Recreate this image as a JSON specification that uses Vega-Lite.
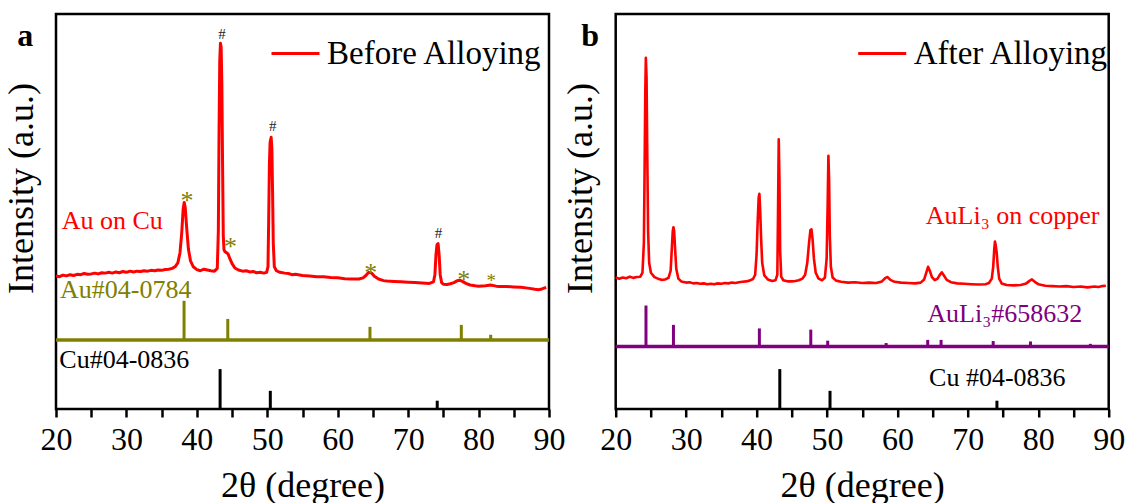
{
  "$schema": "https://vega.github.io/schema/vega-lite/v6.json",
  "background": "white",
  "padding": {"left": 1, "top": 12, "right": 0, "bottom": 0},
  "bounds": "flush",
  "spacing": 66.7,
  "config": {
    "font": "Liberation Serif",
    "view": {"stroke": "black", "strokeWidth": 2.5},
    "axis": {"grid": false, "domain": false},
    "legend": {"orient": "none"}
  },
  "resolve": {"scale": {"color": "independent"}, "legend": {"color": "independent"}},
  "datasets": {
    "a_xrd": [
      {"angle":20,"intensity":33.7},{"angle":20.5,"intensity":33.5},{"angle":21,"intensity":33.9},{"angle":21.5,"intensity":33.7},{"angle":22,"intensity":34.0},{"angle":22.5,"intensity":33.8},{"angle":23,"intensity":34.1},{"angle":23.5,"intensity":34.0},{"angle":24,"intensity":34.3},{"angle":24.5,"intensity":34.1},{"angle":25,"intensity":34.2},{"angle":25.5,"intensity":34.4},{"angle":26,"intensity":34.2},{"angle":26.5,"intensity":34.5},{"angle":27,"intensity":34.4},{"angle":27.5,"intensity":34.6},{"angle":28,"intensity":34.4},{"angle":28.5,"intensity":34.7},{"angle":29,"intensity":34.5},{"angle":29.5,"intensity":34.8},{"angle":30,"intensity":34.6},{"angle":30.5,"intensity":34.9},{"angle":31,"intensity":34.7},{"angle":31.5,"intensity":34.9},{"angle":32,"intensity":34.8},{"angle":32.5,"intensity":35.0},{"angle":33,"intensity":34.9},{"angle":33.5,"intensity":35.1},{"angle":34,"intensity":35.0},{"angle":34.5,"intensity":35.2},{"angle":35,"intensity":35.1},{"angle":35.5,"intensity":35.3},{"angle":36,"intensity":35.4},{"angle":36.5,"intensity":35.6},{"angle":36.9,"intensity":36.0},{"angle":37.3,"intensity":37.0},{"angle":37.6,"intensity":39.5},{"angle":37.85,"intensity":44.5},{"angle":38.05,"intensity":50.5},{"angle":38.2,"intensity":52.3},{"angle":38.35,"intensity":51.0},{"angle":38.55,"intensity":46.0},{"angle":38.8,"intensity":40.5},{"angle":39.1,"intensity":37.5},{"angle":39.5,"intensity":36.0},{"angle":40,"intensity":35.3},{"angle":40.5,"intensity":35.0},{"angle":41,"intensity":35.4},{"angle":41.5,"intensity":35.2},{"angle":42,"intensity":35.0},{"angle":42.5,"intensity":34.9},{"angle":42.9,"intensity":35.6},{"angle":43.05,"intensity":45},{"angle":43.15,"intensity":70},{"angle":43.25,"intensity":88},{"angle":43.35,"intensity":92.6},{"angle":43.45,"intensity":91.5},{"angle":43.55,"intensity":82},{"angle":43.65,"intensity":62},{"angle":43.75,"intensity":44},{"angle":43.85,"intensity":40.3},{"angle":44.0,"intensity":39.8},{"angle":44.2,"intensity":39.6},{"angle":44.45,"intensity":39.2},{"angle":44.7,"intensity":38.0},{"angle":45.0,"intensity":36.8},{"angle":45.4,"intensity":35.7},{"angle":45.9,"intensity":35.2},{"angle":46.5,"intensity":34.9},{"angle":47,"intensity":35.0},{"angle":47.5,"intensity":34.7},{"angle":48,"intensity":34.8},{"angle":48.5,"intensity":34.5},{"angle":49,"intensity":34.6},{"angle":49.5,"intensity":34.4},{"angle":49.9,"intensity":34.6},{"angle":50.1,"intensity":36},{"angle":50.2,"intensity":48},{"angle":50.3,"intensity":62},{"angle":50.4,"intensity":67.5},{"angle":50.55,"intensity":68.8},{"angle":50.65,"intensity":66},{"angle":50.75,"intensity":55},{"angle":50.85,"intensity":42},{"angle":51.0,"intensity":36.0},{"angle":51.3,"intensity":35.0},{"angle":51.8,"intensity":34.6},{"angle":52.5,"intensity":34.4},{"angle":53,"intensity":34.3},{"angle":53.5,"intensity":34.0},{"angle":54,"intensity":34.1},{"angle":55,"intensity":33.8},{"angle":56,"intensity":33.7},{"angle":57,"intensity":33.5},{"angle":58,"intensity":33.5},{"angle":59,"intensity":33.3},{"angle":60,"intensity":33.2},{"angle":61,"intensity":33.0},{"angle":62,"intensity":32.9},{"angle":63,"intensity":32.9},{"angle":63.6,"intensity":33.2},{"angle":64.0,"intensity":33.8},{"angle":64.4,"intensity":34.6},{"angle":64.8,"intensity":34.4},{"angle":65.2,"intensity":33.6},{"angle":65.8,"intensity":32.9},{"angle":66.5,"intensity":32.5},{"angle":67,"intensity":32.4},{"angle":68,"intensity":32.3},{"angle":69,"intensity":32.2},{"angle":70,"intensity":32.1},{"angle":71,"intensity":32.0},{"angle":72,"intensity":31.9},{"angle":73,"intensity":31.8},{"angle":73.6,"intensity":32.2},{"angle":73.8,"intensity":34},{"angle":73.95,"intensity":39},{"angle":74.1,"intensity":41.6},{"angle":74.25,"intensity":41.9},{"angle":74.4,"intensity":39},{"angle":74.55,"intensity":34},{"angle":74.75,"intensity":32},{"angle":75,"intensity":31.6},{"angle":75.5,"intensity":31.5},{"angle":76,"intensity":31.7},{"angle":76.5,"intensity":32.0},{"angle":77,"intensity":32.5},{"angle":77.3,"intensity":32.6},{"angle":77.7,"intensity":32.3},{"angle":78.2,"intensity":31.8},{"angle":78.8,"intensity":31.4},{"angle":79.5,"intensity":31.2},{"angle":80,"intensity":31.1},{"angle":81,"intensity":31.2},{"angle":81.7,"intensity":31.4},{"angle":82.5,"intensity":31.1},{"angle":83,"intensity":31.0},{"angle":84,"intensity":31.0},{"angle":85,"intensity":30.9},{"angle":86,"intensity":30.8},{"angle":87,"intensity":30.6},{"angle":88,"intensity":30.3},{"angle":88.5,"intensity":30.2},{"angle":89,"intensity":30.4},{"angle":89.6,"intensity":30.8}
    ],
    "b_xrd": [
      {"angle":20,"intensity":33.3},{"angle":20.5,"intensity":33.0},{"angle":21,"intensity":33.3},{"angle":21.5,"intensity":33.1},{"angle":22,"intensity":33.5},{"angle":22.5,"intensity":33.2},{"angle":23,"intensity":33.4},{"angle":23.5,"intensity":33.5},{"angle":23.8,"intensity":34.5},{"angle":24.0,"intensity":42},{"angle":24.1,"intensity":60},{"angle":24.2,"intensity":80},{"angle":24.28,"intensity":88.9},{"angle":24.38,"intensity":84},{"angle":24.48,"intensity":65},{"angle":24.6,"intensity":45},{"angle":24.75,"intensity":37},{"angle":25,"intensity":34.5},{"angle":25.5,"intensity":33.4},{"angle":26,"intensity":33.0},{"angle":26.5,"intensity":32.7},{"angle":27,"intensity":32.8},{"angle":27.5,"intensity":33.2},{"angle":27.8,"intensity":35},{"angle":27.95,"intensity":40},{"angle":28.1,"intensity":45},{"angle":28.2,"intensity":46.0},{"angle":28.3,"intensity":45},{"angle":28.45,"intensity":40},{"angle":28.6,"intensity":35.5},{"angle":28.9,"intensity":33},{"angle":29.3,"intensity":32.3},{"angle":30,"intensity":32.0},{"angle":30.5,"intensity":32.1},{"angle":31,"intensity":31.8},{"angle":31.5,"intensity":31.9},{"angle":32,"intensity":31.7},{"angle":32.5,"intensity":31.8},{"angle":33,"intensity":31.6},{"angle":33.5,"intensity":31.7},{"angle":34,"intensity":31.6},{"angle":34.5,"intensity":31.8},{"angle":35,"intensity":31.7},{"angle":35.5,"intensity":31.9},{"angle":36,"intensity":31.8},{"angle":36.5,"intensity":32.0},{"angle":37,"intensity":31.9},{"angle":37.5,"intensity":32.1},{"angle":38,"intensity":32.2},{"angle":38.5,"intensity":32.3},{"angle":39,"intensity":32.5},{"angle":39.5,"intensity":32.9},{"angle":39.8,"intensity":34},{"angle":40.0,"intensity":39},{"angle":40.15,"intensity":47},{"angle":40.3,"intensity":53.5},{"angle":40.4,"intensity":54.5},{"angle":40.5,"intensity":51},{"angle":40.65,"intensity":43},{"angle":40.8,"intensity":37},{"angle":41.1,"intensity":33.8},{"angle":41.6,"intensity":32.8},{"angle":42.2,"intensity":32.4},{"angle":42.7,"intensity":32.6},{"angle":42.95,"intensity":34},{"angle":43.05,"intensity":50},{"angle":43.15,"intensity":68.3},{"angle":43.25,"intensity":58},{"angle":43.35,"intensity":40},{"angle":43.5,"intensity":33.5},{"angle":43.8,"intensity":32.6},{"angle":44.5,"intensity":32.3},{"angle":45,"intensity":32.3},{"angle":45.5,"intensity":32.4},{"angle":46,"intensity":32.6},{"angle":46.5,"intensity":33.0},{"angle":46.9,"intensity":34},{"angle":47.2,"intensity":37},{"angle":47.45,"intensity":42},{"angle":47.65,"intensity":45.3},{"angle":47.8,"intensity":45.5},{"angle":47.95,"intensity":43},{"angle":48.15,"intensity":38},{"angle":48.4,"intensity":34.5},{"angle":48.8,"intensity":33.0},{"angle":49.3,"intensity":32.6},{"angle":49.7,"intensity":33.2},{"angle":49.95,"intensity":38},{"angle":50.1,"intensity":52},{"angle":50.2,"intensity":64.1},{"angle":50.3,"intensity":58},{"angle":50.4,"intensity":44},{"angle":50.55,"intensity":36},{"angle":50.8,"intensity":33.3},{"angle":51.3,"intensity":32.5},{"angle":52,"intensity":32.2},{"angle":53,"intensity":32.0},{"angle":54,"intensity":32.1},{"angle":55,"intensity":31.9},{"angle":56,"intensity":32.0},{"angle":57,"intensity":31.9},{"angle":57.8,"intensity":32.3},{"angle":58.3,"intensity":33.2},{"angle":58.6,"intensity":33.4},{"angle":59.0,"intensity":32.7},{"angle":59.6,"intensity":32.2},{"angle":60.5,"intensity":32.0},{"angle":61.5,"intensity":31.9},{"angle":62.5,"intensity":31.8},{"angle":63.3,"intensity":32.0},{"angle":63.8,"intensity":32.8},{"angle":64.1,"intensity":34.5},{"angle":64.35,"intensity":36.0},{"angle":64.6,"intensity":35.0},{"angle":64.9,"intensity":33.4},{"angle":65.3,"intensity":32.6},{"angle":65.7,"intensity":33.0},{"angle":66.0,"intensity":33.9},{"angle":66.3,"intensity":34.6},{"angle":66.6,"intensity":33.8},{"angle":67.0,"intensity":32.7},{"angle":67.6,"intensity":32.1},{"angle":68.5,"intensity":31.8},{"angle":69.5,"intensity":31.7},{"angle":70.5,"intensity":31.6},{"angle":71.5,"intensity":31.5},{"angle":72.5,"intensity":31.6},{"angle":73.0,"intensity":31.9},{"angle":73.4,"intensity":33},{"angle":73.6,"intensity":36},{"angle":73.75,"intensity":40.5},{"angle":73.85,"intensity":42.4},{"angle":73.95,"intensity":41.5},{"angle":74.1,"intensity":39.5},{"angle":74.25,"intensity":36},{"angle":74.45,"intensity":33},{"angle":74.8,"intensity":31.8},{"angle":75.5,"intensity":31.4},{"angle":76.5,"intensity":31.3},{"angle":77.5,"intensity":31.4},{"angle":78.3,"intensity":31.8},{"angle":78.8,"intensity":32.5},{"angle":79.1,"intensity":32.8},{"angle":79.5,"intensity":32.2},{"angle":80,"intensity":31.6},{"angle":81,"intensity":31.2},{"angle":82,"intensity":31.1},{"angle":83,"intensity":31.0},{"angle":84,"intensity":31.1},{"angle":85,"intensity":30.9},{"angle":86,"intensity":31.0},{"angle":87,"intensity":30.8},{"angle":88,"intensity":31.0},{"angle":88.5,"intensity":30.9},{"angle":89,"intensity":31.1},{"angle":89.6,"intensity":31.2}
    ],
    "a_sticks": [
      {"phase":"Au","angle":38.18,"base":17.5,"top":27.4},
      {"phase":"Au","angle":44.39,"base":17.5,"top":22.8},
      {"phase":"Au","angle":64.58,"base":17.5,"top":20.8},
      {"phase":"Au","angle":77.55,"base":17.5,"top":21.3},
      {"phase":"Au","angle":81.72,"base":17.5,"top":18.8},
      {"phase":"Cu","angle":43.30,"base":0,"top":10.1},
      {"phase":"Cu","angle":50.43,"base":0,"top":4.6},
      {"phase":"Cu","angle":74.13,"base":0,"top":2.1}
    ],
    "b_sticks": [
      {"phase":"AuLi3","angle":24.3,"base":15.8,"top":26.2},
      {"phase":"AuLi3","angle":28.2,"base":15.8,"top":21.3},
      {"phase":"AuLi3","angle":40.4,"base":15.8,"top":20.4},
      {"phase":"AuLi3","angle":47.7,"base":15.8,"top":20.1},
      {"phase":"AuLi3","angle":50.1,"base":15.8,"top":17.3},
      {"phase":"AuLi3","angle":58.4,"base":15.8,"top":16.7},
      {"phase":"AuLi3","angle":64.3,"base":15.8,"top":17.5},
      {"phase":"AuLi3","angle":66.2,"base":15.8,"top":17.5},
      {"phase":"AuLi3","angle":73.6,"base":15.8,"top":17.2},
      {"phase":"AuLi3","angle":78.9,"base":15.8,"top":17.1},
      {"phase":"AuLi3","angle":87.4,"base":15.8,"top":16.5},
      {"phase":"Cu","angle":43.30,"base":0,"top":10.1},
      {"phase":"Cu","angle":50.43,"base":0,"top":4.6},
      {"phase":"Cu","angle":74.13,"base":0,"top":2.1}
    ],
    "a_base": [{"phase":"Au","from":20,"to":90,"level":17.5}],
    "b_base": [{"phase":"AuLi3","from":20,"to":90,"level":15.8}],
    "a_text": [
      {"kind":"panel","label":"a","angle":14.5,"intensity":92.0},
      {"kind":"sample","label":"Au on Cu","angle":20.8,"intensity":45.5},
      {"kind":"ref","label":"Au#04-0784","angle":20.57,"intensity":28.0},
      {"kind":"cu","label":"Cu#04-0836","angle":20.47,"intensity":10.5},
      {"kind":"hash","label":"#","angle":43.58,"intensity":93.7},
      {"kind":"hash","label":"#","angle":50.77,"intensity":70.5},
      {"kind":"hash","label":"#","angle":74.3,"intensity":43.4},
      {"kind":"star","label":"*","angle":38.6,"intensity":50.6},
      {"kind":"star","label":"*","angle":44.76,"intensity":39.0},
      {"kind":"star","label":"*","angle":64.7,"intensity":32.5},
      {"kind":"star","label":"*","angle":77.9,"intensity":30.6},
      {"kind":"smallstar","label":"*","angle":81.8,"intensity":30.8}
    ],
    "b_text": [
      {"kind":"panel","label":"b","angle":15.1,"intensity":92.0},
      {"kind":"sample","label":"AuLi₃ on copper","angle":64.03,"intensity":46.8},
      {"kind":"ref","label":"AuLi₃#658632","angle":64.25,"intensity":21.9},
      {"kind":"cu","label":"Cu #04-0836","angle":64.5,"intensity":5.7}
    ]
  },
  "hconcat": [
    {
      "width": 493,
      "height": 395,
      "encoding": {
        "x": {"type": "quantitative", "scale": {"domain": [20, 90], "nice": false},
              "axis": {"values": [20,25,30,35,40,45,50,55,60,65,70,75,80,85,90], "labelExpr": "datum.value % 10 === 0 ? datum.label : ''", "tickSize": 8, "tickWidth": 2.5, "tickColor": "black", "labelFont": "Liberation Serif", "labelFontSize": 32, "labelColor": "black", "labelPadding": 7, "labelFlush": false, "labelOverlap": false, "title": "2θ (degree)", "titleFont": "Liberation Serif", "titleFontSize": 36, "titleFontWeight": "normal", "titleColor": "black", "titlePadding": 13}},
        "y": {"type": "quantitative", "scale": {"domain": [0, 100], "nice": false},
              "axis": {"title": "Intensity (a.u.)", "labels": false, "ticks": false, "titleFont": "Liberation Serif", "titleFontSize": 36, "titleFontWeight": "normal", "titleColor": "black", "titlePadding": 16, "titleY": 174}}
      },
      "layer": [
        {
          "data": {"name": "a_base"},
          "mark": {"type": "rule", "color": "#808000", "strokeWidth": 3.5},
          "encoding": {"x": {"field": "from", "type": "quantitative"}, "x2": {"field": "to"}, "y": {"field": "level", "type": "quantitative"}}
        },
        {
          "data": {"name": "a_sticks"},
          "transform": [{"filter": "datum.phase === 'Au'"}],
          "mark": {"type": "rule", "color": "#808000", "strokeWidth": 3},
          "encoding": {"x": {"field": "angle", "type": "quantitative"}, "y": {"field": "base", "type": "quantitative"}, "y2": {"field": "top"}}
        },
        {
          "data": {"name": "a_sticks"},
          "transform": [{"filter": "datum.phase === 'Cu'"}],
          "mark": {"type": "rule", "color": "black", "strokeWidth": 3},
          "encoding": {"x": {"field": "angle", "type": "quantitative"}, "y": {"field": "base", "type": "quantitative"}, "y2": {"field": "top"}}
        },
        {
          "data": {"name": "a_xrd"},
          "mark": {"type": "line", "strokeWidth": 3, "strokeJoin": "round"},
          "encoding": {
            "x": {"field": "angle", "type": "quantitative"},
            "y": {"field": "intensity", "type": "quantitative"},
            "color": {"datum": "Before Alloying", "type": "nominal", "scale": {"range": ["#ff0000"]},
                      "legend": {"title": null, "orient": "none", "legendX": 214, "legendY": 14, "padding": 0, "symbolType": "stroke", "symbolSize": 2304, "symbolStrokeWidth": 3, "labelFont": "Liberation Serif", "labelFontSize": 33, "labelColor": "black", "labelOffset": 6, "labelLimit": 400}}
          }
        },
        {
          "data": {"name": "a_text"},
          "transform": [{"filter": "datum.kind === 'panel'"}],
          "mark": {"type": "text", "align": "left", "baseline": "alphabetic", "font": "Liberation Serif", "fontSize": 32, "fontWeight": "bold", "color": "black"},
          "encoding": {"x": {"field": "angle", "type": "quantitative"}, "y": {"field": "intensity", "type": "quantitative"}, "text": {"field": "label"}}
        },
        {
          "data": {"name": "a_text"},
          "transform": [{"filter": "datum.kind === 'sample'"}],
          "mark": {"type": "text", "align": "left", "baseline": "alphabetic", "font": "Liberation Serif", "fontSize": 26, "color": "#ff0000"},
          "encoding": {"x": {"field": "angle", "type": "quantitative"}, "y": {"field": "intensity", "type": "quantitative"}, "text": {"field": "label"}}
        },
        {
          "data": {"name": "a_text"},
          "transform": [{"filter": "datum.kind === 'ref'"}],
          "mark": {"type": "text", "align": "left", "baseline": "alphabetic", "font": "Liberation Serif", "fontSize": 26, "color": "#808000"},
          "encoding": {"x": {"field": "angle", "type": "quantitative"}, "y": {"field": "intensity", "type": "quantitative"}, "text": {"field": "label"}}
        },
        {
          "data": {"name": "a_text"},
          "transform": [{"filter": "datum.kind === 'cu'"}],
          "mark": {"type": "text", "align": "left", "baseline": "alphabetic", "font": "Liberation Serif", "fontSize": 26, "color": "black"},
          "encoding": {"x": {"field": "angle", "type": "quantitative"}, "y": {"field": "intensity", "type": "quantitative"}, "text": {"field": "label"}}
        },
        {
          "data": {"name": "a_text"},
          "transform": [{"filter": "datum.kind === 'hash'"}],
          "mark": {"type": "text", "align": "center", "baseline": "alphabetic", "font": "Liberation Serif", "fontSize": 15, "color": "#222222"},
          "encoding": {"x": {"field": "angle", "type": "quantitative"}, "y": {"field": "intensity", "type": "quantitative"}, "text": {"field": "label"}}
        },
        {
          "data": {"name": "a_text"},
          "transform": [{"filter": "datum.kind === 'star'"}],
          "mark": {"type": "text", "align": "center", "baseline": "alphabetic", "font": "Liberation Serif", "fontSize": 26, "color": "#808000"},
          "encoding": {"x": {"field": "angle", "type": "quantitative"}, "y": {"field": "intensity", "type": "quantitative"}, "text": {"field": "label"}}
        },
        {
          "data": {"name": "a_text"},
          "transform": [{"filter": "datum.kind === 'smallstar'"}],
          "mark": {"type": "text", "align": "center", "baseline": "alphabetic", "font": "Liberation Serif", "fontSize": 19, "color": "#808000"},
          "encoding": {"x": {"field": "angle", "type": "quantitative"}, "y": {"field": "intensity", "type": "quantitative"}, "text": {"field": "label"}}
        }
      ]
    },
    {
      "width": 493,
      "height": 395,
      "encoding": {
        "x": {"type": "quantitative", "scale": {"domain": [20, 90], "nice": false},
              "axis": {"values": [20,25,30,35,40,45,50,55,60,65,70,75,80,85,90], "labelExpr": "datum.value % 10 === 0 ? datum.label : ''", "tickSize": 8, "tickWidth": 2.5, "tickColor": "black", "labelFont": "Liberation Serif", "labelFontSize": 32, "labelColor": "black", "labelPadding": 7, "labelFlush": false, "labelOverlap": false, "title": "2θ (degree)", "titleFont": "Liberation Serif", "titleFontSize": 36, "titleFontWeight": "normal", "titleColor": "black", "titlePadding": 13}},
        "y": {"type": "quantitative", "scale": {"domain": [0, 100], "nice": false},
              "axis": {"title": "Intensity (a.u.)", "labels": false, "ticks": false, "titleFont": "Liberation Serif", "titleFontSize": 36, "titleFontWeight": "normal", "titleColor": "black", "titlePadding": 16, "titleY": 174}}
      },
      "layer": [
        {
          "data": {"name": "b_base"},
          "mark": {"type": "rule", "color": "#800080", "strokeWidth": 3.5},
          "encoding": {"x": {"field": "from", "type": "quantitative"}, "x2": {"field": "to"}, "y": {"field": "level", "type": "quantitative"}}
        },
        {
          "data": {"name": "b_sticks"},
          "transform": [{"filter": "datum.phase === 'AuLi3'"}],
          "mark": {"type": "rule", "color": "#800080", "strokeWidth": 3},
          "encoding": {"x": {"field": "angle", "type": "quantitative"}, "y": {"field": "base", "type": "quantitative"}, "y2": {"field": "top"}}
        },
        {
          "data": {"name": "b_sticks"},
          "transform": [{"filter": "datum.phase === 'Cu'"}],
          "mark": {"type": "rule", "color": "black", "strokeWidth": 3},
          "encoding": {"x": {"field": "angle", "type": "quantitative"}, "y": {"field": "base", "type": "quantitative"}, "y2": {"field": "top"}}
        },
        {
          "data": {"name": "b_xrd"},
          "mark": {"type": "line", "strokeWidth": 2.6, "strokeJoin": "round"},
          "encoding": {
            "x": {"field": "angle", "type": "quantitative"},
            "y": {"field": "intensity", "type": "quantitative"},
            "color": {"datum": "After Alloying", "type": "nominal", "scale": {"range": ["#ff0000"]},
                      "legend": {"title": null, "orient": "none", "legendX": 241, "legendY": 14, "padding": 0, "symbolType": "stroke", "symbolSize": 2304, "symbolStrokeWidth": 3, "labelFont": "Liberation Serif", "labelFontSize": 33, "labelColor": "black", "labelOffset": 6, "labelLimit": 400}}
          }
        },
        {
          "data": {"name": "b_text"},
          "transform": [{"filter": "datum.kind === 'panel'"}],
          "mark": {"type": "text", "align": "left", "baseline": "alphabetic", "font": "Liberation Serif", "fontSize": 32, "fontWeight": "bold", "color": "black"},
          "encoding": {"x": {"field": "angle", "type": "quantitative"}, "y": {"field": "intensity", "type": "quantitative"}, "text": {"field": "label"}}
        },
        {
          "data": {"name": "b_text"},
          "transform": [{"filter": "datum.kind === 'sample'"}],
          "mark": {"type": "text", "align": "left", "baseline": "alphabetic", "font": "Liberation Serif", "fontSize": 26, "color": "#ff0000"},
          "encoding": {"x": {"field": "angle", "type": "quantitative"}, "y": {"field": "intensity", "type": "quantitative"}, "text": {"field": "label"}}
        },
        {
          "data": {"name": "b_text"},
          "transform": [{"filter": "datum.kind === 'ref'"}],
          "mark": {"type": "text", "align": "left", "baseline": "alphabetic", "font": "Liberation Serif", "fontSize": 26, "color": "#800080"},
          "encoding": {"x": {"field": "angle", "type": "quantitative"}, "y": {"field": "intensity", "type": "quantitative"}, "text": {"field": "label"}}
        },
        {
          "data": {"name": "b_text"},
          "transform": [{"filter": "datum.kind === 'cu'"}],
          "mark": {"type": "text", "align": "left", "baseline": "alphabetic", "font": "Liberation Serif", "fontSize": 26, "color": "black"},
          "encoding": {"x": {"field": "angle", "type": "quantitative"}, "y": {"field": "intensity", "type": "quantitative"}, "text": {"field": "label"}}
        }
      ]
    }
  ]
}
